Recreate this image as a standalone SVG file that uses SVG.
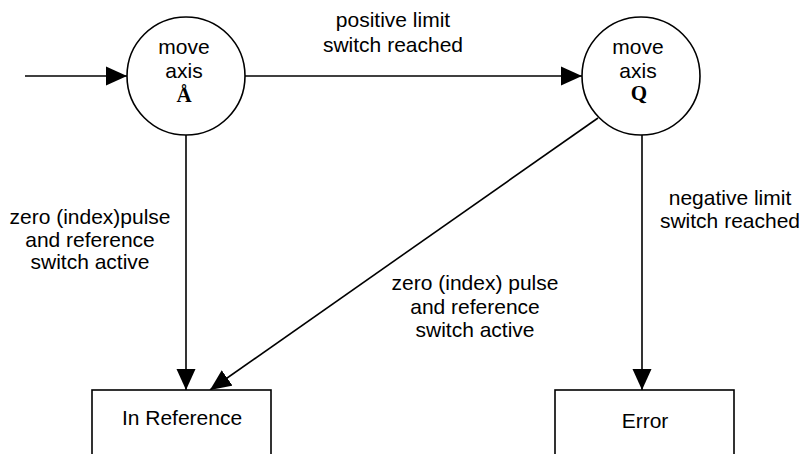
<svg xmlns="http://www.w3.org/2000/svg" width="804" height="454" viewBox="0 0 804 454">
  <style>
    .shape { fill: #fff; stroke: #000; stroke-width: 1.6; }
    .edge { fill: none; stroke: #000; stroke-width: 1.6; marker-end: url(#head); }
    .lbl { font-family: "Liberation Sans", Arial, sans-serif; font-size: 21px; fill: #000; text-anchor: middle; }
    .sym { font-family: "Liberation Serif", "Times New Roman", serif; font-size: 21px; font-weight: bold; fill: #000; text-anchor: middle; }
  </style>
  <defs>
    <marker id="head" markerUnits="userSpaceOnUse" markerWidth="22" markerHeight="20" refX="21" refY="10" orient="auto">
      <path d="M0,0.5 L21,10 L0,19.5 Z" fill="#000"/>
    </marker>
  </defs>
  <rect width="804" height="454" fill="#fff"/>

  <g id="connectors">
    <line class="edge" x1="25" y1="76" x2="127" y2="76"/>
    <line class="edge" x1="245" y1="76" x2="582" y2="76"/>
    <line class="edge" x1="186" y1="135" x2="186" y2="390"/>
    <line class="edge" x1="598" y1="118" x2="210" y2="390"/>
    <line class="edge" x1="642" y1="135" x2="642" y2="390"/>
    <text class="lbl" x="393" y="27">positive limit</text>
    <text class="lbl" x="393" y="52">switch reached</text>
    <text class="lbl" x="90" y="224">zero (index)pulse</text>
    <text class="lbl" x="90" y="247">and reference</text>
    <text class="lbl" x="90" y="269">switch active</text>
    <text class="lbl" x="475" y="290">zero (index) pulse</text>
    <text class="lbl" x="475" y="314">and reference</text>
    <text class="lbl" x="475" y="337">switch active</text>
    <text class="lbl" x="730" y="205">negative limit</text>
    <text class="lbl" x="730" y="228">switch reached</text>
  </g>

  <g id="move-axis-a">
    <circle class="shape" cx="186" cy="76" r="59"/>
    <text class="lbl" x="184" y="54">move</text>
    <text class="lbl" x="184" y="78">axis</text>
    <text class="sym" x="184" y="102">Å</text>
  </g>

  <g id="move-axis-q">
    <circle class="shape" cx="641" cy="76" r="59"/>
    <text class="lbl" x="638" y="54">move</text>
    <text class="lbl" x="638" y="78">axis</text>
    <text class="sym" x="639" y="100">Q</text>
  </g>

  <g id="in-reference">
    <rect class="shape" x="92" y="390" width="179" height="80"/>
    <text class="lbl" x="182" y="425">In Reference</text>
  </g>

  <g id="error">
    <rect class="shape" x="555" y="390" width="179" height="80"/>
    <text class="lbl" x="645" y="428">Error</text>
  </g>
</svg>
